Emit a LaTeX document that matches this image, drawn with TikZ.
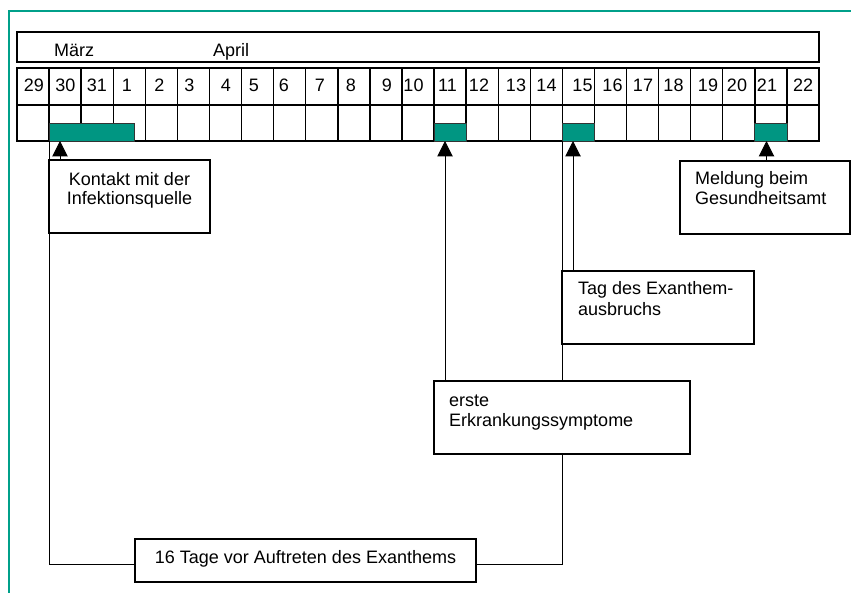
\documentclass[tikz,border=0pt]{standalone}
\usepackage{fontspec}
\setmainfont{Liberation Sans}
\usetikzlibrary{arrows.meta,calc}
\definecolor{teal1}{RGB}{0,150,130}
\definecolor{frame1}{RGB}{0,160,138}
\begin{document}
\begin{tikzpicture}[x=1pt,y=-1pt, font=\fontsize{18}{20}\selectfont,
 gridcell/.style={draw, line width=1.4pt, minimum width=32.08pt, inner sep=0pt, outer sep=0pt, anchor=north west},
 barbox/.style={fill=teal1, draw=black!80, line width=0.8pt, inner sep=0pt, outer sep=0pt, minimum height=18pt, anchor=south west},
 labelbox/.style={draw, line width=1.3pt, inner sep=0pt, outer sep=0pt, fill=white, anchor=north west},
 txt/.style={inner sep=0pt, anchor=base west},
 ctxt/.style={inner sep=0pt, anchor=base},
 conn/.style={line width=1pt},
 arr/.style={line width=1pt, -{Triangle[length=15.5pt,width=15.5pt]}}]

\useasboundingbox (0,0) rectangle (851,593);
\draw[frame1, line width=2pt] (8.5,600) -- (8.5,11) -- (870,11);

% month row
\node[labelbox, minimum width=802pt, minimum height=30pt] (month) at (17,32) {};
\node[txt] (maerz) at (54,57) {März};
\node[txt] (april) at (213,57) {April};

% grid
\foreach \i in {0,...,24} {
  \node[gridcell, minimum height=37pt] (d\i) at ({17+32.08*\i},68) {};
  \node[gridcell, minimum height=36pt] (e\i) at ({17+32.08*\i},105) {};
}
\foreach \t/\x [count=\i] in {29/34, 30/65.5, 31/97, 1/127, 2/159.5, 3/189.5, 4/226, 5/254, 6/284, 7/320, 8/351, 9/387, 10/413.5, 11/447.5, 12/479, 13/516, 14/546.5, 15/582.5, 16/612.5, 17/643, 18/673.5, 19/708, 20/737, 21/767, 22/803}
  \node[ctxt] (l\i) at (\x,92) {\t};

% bars
\node[barbox, minimum width=85pt] (bar1) at (49,141) {};
\node[barbox, minimum width=32pt] (bar2) at (434,141) {};
\node[barbox, minimum width=32pt] (bar3) at (562,141) {};
\node[barbox, minimum width=32.5pt] (bar4) at (754.5,141) {};

% connectors (behind boxes)
\draw[conn] (bar1.south west) |- ([yshift=-3.5pt]135,560.5) coordinate (sl);
\draw[conn] (bar3.south west) -- (562,381);
\draw[conn] (562,454) |- (476,564) coordinate (sr);

% boxes
\node[labelbox, minimum width=161pt, minimum height=73pt] (kontakt) at (49,160) {};
\node[labelbox, minimum width=170pt, minimum height=73pt] (meldung) at (680,161) {};
\node[labelbox, minimum width=192pt, minimum height=73pt] (tag) at (562,271) {};
\node[labelbox, minimum width=256pt, minimum height=73pt] (erste) at (434,381) {};
\node[labelbox, minimum width=341pt, minimum height=43pt] (sixteen) at (135,539) {};

% texts
\node[ctxt] (k1) at (129.5,186) {Kontakt mit der};
\node[ctxt] (k2) at (129.5,205) {Infektionsquelle};
\node[txt] (m1) at (695,185) {Meldung beim};
\node[txt] (m2) at (695,205) {Gesundheitsamt};
\node[txt] (t1) at (578,295) {Tag des Exanthem-};
\node[txt] (t2) at (578,316) {ausbruchs};
\node[txt] (e1) at (449,406) {erste};
\node[txt] (e2) at (449,426) {Erkrankungssymptome};
\node[ctxt] (s1) at (305.5,563) {16 Tage vor Auftreten des Exanthems};

% arrows
\draw[arr] ([xshift=11pt]kontakt.north west) -- ([xshift=11pt]bar1.south west);
\draw[arr] ([xshift=11pt]erste.north west) -- ([xshift=11pt]bar2.south west);
\draw[arr] ([xshift=11pt]tag.north west) -- ([xshift=11pt]bar3.south west);
\draw[arr] ([xshift=12pt]bar4.south west |- meldung.north) -- ([xshift=12pt]bar4.south west);
\end{tikzpicture}
\end{document}
